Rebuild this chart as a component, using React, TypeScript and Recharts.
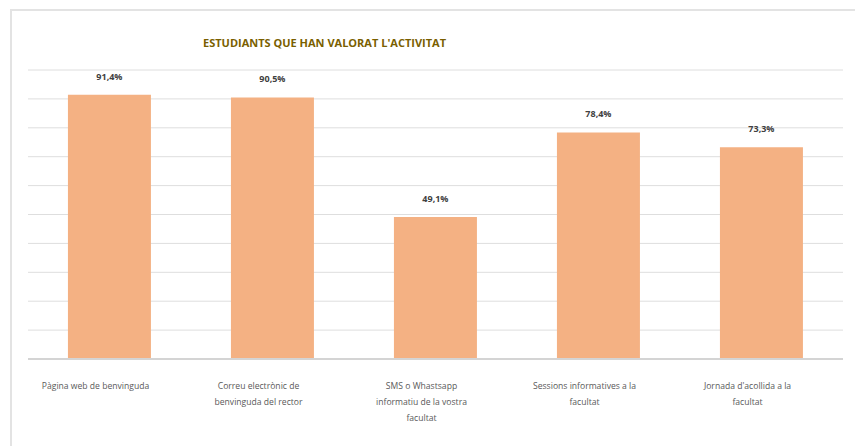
import React from 'react';
import { BarChart, Bar, XAxis, YAxis, CartesianGrid, LabelList } from 'recharts';

// Chart values
const categories = [
  'Pàgina web de benvinguda',
  'Correu electrònic de\nbenvinguda del rector',
  'SMS o Whastsapp\ninformatiu de la vostra\nfacultat',
  'Sessions informatives a la\nfacultat',
  "Jornada d'acollida a la\nfacultat",
];
const values = [91.4, 90.5, 49.1, 78.4, 73.3];
const yTicks = [0, 10, 20, 30, 40, 50, 60, 70, 80, 90, 100];

const chartData = categories.map((name, i) => ({ name, value: values[i] }));

const FONT = '"Open Sans", "DejaVu Sans", sans-serif';

function WrappedTick(props: any) {
  const { x, y, payload } = props;
  const lines: string[] = String(payload.value).split('\n');
  return (
    <g transform={`translate(${x - 14},${y})`}>
      {lines.map((line, i) => (
        <text
          key={i}
          x={0}
          y={22 + i * 16}
          textAnchor="middle"
          fontSize={8.6}
          fontFamily={FONT}
          fill="#595959"
        >
          {line}
        </text>
      ))}
    </g>
  );
}

const fmt = (v: any) => `${Number(v).toFixed(1).replace('.', ',')}%`;

export default function App() {
  return (
    <div style={{ position: 'relative', width: 855, height: 438 }}>
      <div
        style={{
          position: 'absolute',
          left: 2,
          top: 1,
          right: 0,
          bottom: 0,
          borderLeft: '2px solid #e3e3e3',
          borderTop: '2px solid #e3e3e3',
        }}
      />
      <div
        style={{
          position: 'absolute',
          left: 195,
          top: 27,
          fontFamily: FONT,
          fontWeight: 700,
          fontSize: 11,
          color: '#7a5f00',
          whiteSpace: 'nowrap',
        }}
      >
        ESTUDIANTS QUE HAN VALORAT L'ACTIVITAT
      </div>
      <div style={{ position: 'absolute', left: 0, top: 0 }}>
        <BarChart
          width={855}
          height={438}
          data={chartData}
          margin={{ top: 62, right: 20, left: 20, bottom: 0 }}
          barCategoryGap="24.5%"
        >
          <CartesianGrid vertical={false} stroke="#dedede" strokeWidth={1} />
          <XAxis
            dataKey="name"
            height={87}
            interval={0}
            tickLine={false}
            axisLine={{ stroke: '#d4d4d4', strokeWidth: 2 }}
            tick={<WrappedTick />}
          />
          <YAxis hide domain={[0, 100]} ticks={yTicks} />
          <Bar dataKey="value" fill="#f4b183" isAnimationActive={false}>
            <LabelList
              dataKey="value"
              position="top"
              offset={15}
              formatter={fmt}
              style={{ fontFamily: FONT, fontSize: 9, fontWeight: 700, fill: '#404040' }}
            />
          </Bar>
        </BarChart>
      </div>
    </div>
  );
}
